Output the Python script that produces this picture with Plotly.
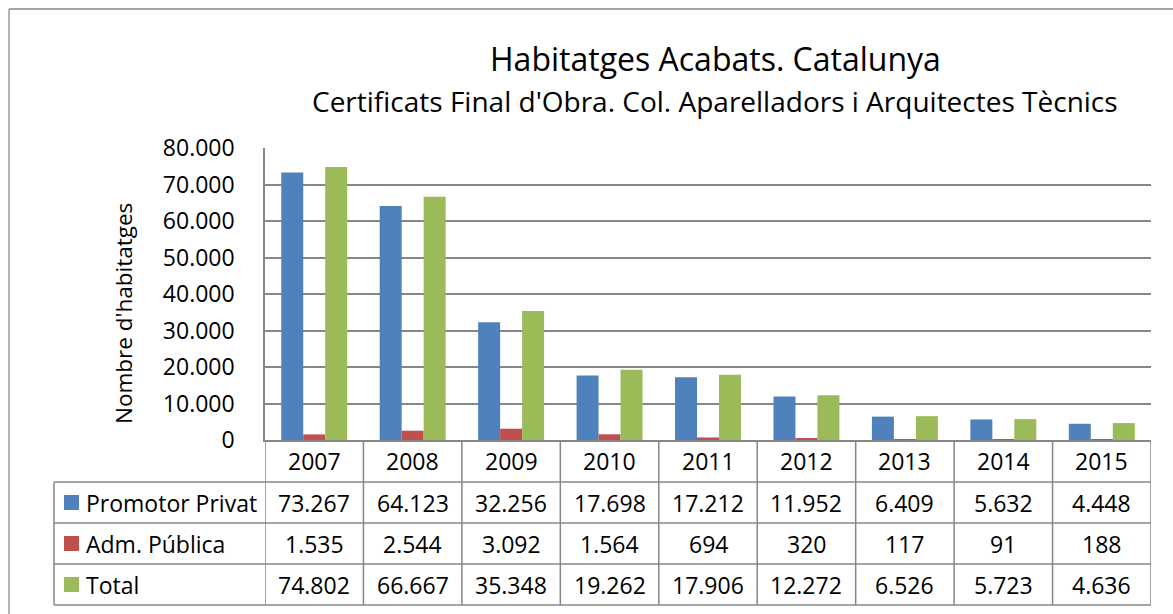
import plotly.graph_objects as go

years = ["2007", "2008", "2009", "2010", "2011", "2012", "2013", "2014", "2015"]
promotor_privat = [73267, 64123, 32256, 17698, 17212, 11952, 6409, 5632, 4448]
adm_publica = [1535, 2544, 3092, 1564, 694, 320, 117, 91, 188]
total = [74802, 66667, 35348, 19262, 17906, 12272, 6526, 5723, 4636]
series_names = ["Promotor Privat", "Adm. Pública", "Total"]
series_colors = ["#4F81BD", "#C0504D", "#9BBB59"]
series_values = [promotor_privat, adm_publica, total]

W, H = 1173, 614
FONT = "Open Sans"
GRID = "#878787"
L, R, T, Z = 265, 1151, 148, 440
ROWS = [440, 482, 523, 564, 605]
LEG_L = 54
FS = 23


def px(x):
    return x / W


def py(y):
    return 1 - y / H


def fmt(v):
    return f"{v:,}".replace(",", ".")


fig = go.Figure()
for name, vals, col in zip(series_names, series_values, series_colors):
    fig.add_trace(go.Bar(x=years, y=vals, name=name, marker_color=col,
                         marker_line_width=0, showlegend=False))

shapes = []
# outer chart border
shapes.append(dict(type="line", xref="paper", yref="paper", x0=px(9), x1=px(1200), y0=py(9), y1=py(9),
                   line=dict(color="#898989", width=1.3)))
shapes.append(dict(type="line", xref="paper", yref="paper", x0=px(9), x1=px(9), y0=py(9), y1=py(640),
                   line=dict(color="#898989", width=1.3)))
# table vertical lines on category boundaries
for i in range(len(years) + 1):
    shapes.append(dict(type="line", xref="x", yref="paper", x0=i - 0.5, x1=i - 0.5,
                       y0=py(Z), y1=py(ROWS[-1]), line=dict(color=GRID, width=1.5)))
shapes.append(dict(type="line", xref="paper", yref="paper", x0=px(LEG_L), x1=px(LEG_L),
                   y0=py(ROWS[1]), y1=py(ROWS[-1]), line=dict(color=GRID, width=1.5)))
# table horizontal lines
for r in ROWS[1:]:
    shapes.append(dict(type="line", xref="paper", yref="paper", x0=px(LEG_L), x1=px(R),
                       y0=py(r), y1=py(r), line=dict(color=GRID, width=1.5)))

annotations = []
# header years
hc = (ROWS[0] + ROWS[1]) / 2
for i, yr in enumerate(years):
    annotations.append(dict(x=i, y=py(hc), xref="x", yref="paper", text=yr, showarrow=False,
                            font=dict(family=FONT, size=FS, color="black"), xanchor="center", yanchor="middle"))
# rows
for k, (name, vals, col) in enumerate(zip(series_names, series_values, series_colors)):
    rc = (ROWS[k + 1] + ROWS[k + 2]) / 2
    shapes.append(dict(type="rect", xref="paper", yref="paper", x0=px(64), x1=px(79),
                       y0=py(rc + 7.5), y1=py(rc - 7.5), fillcolor=col, line=dict(width=0)))
    annotations.append(dict(x=px(84), y=py(rc), xref="paper", yref="paper", text=name, showarrow=False,
                            font=dict(family=FONT, size=FS, color="black"), xanchor="left", yanchor="middle"))
    for i, v in enumerate(vals):
        annotations.append(dict(x=i, y=py(rc), xref="x", yref="paper", text=fmt(v), showarrow=False,
                                font=dict(family=FONT, size=FS, color="black"), xanchor="center", yanchor="middle"))

# titles
annotations.append(dict(x=px(715), y=py(58), xref="paper", yref="paper", text="Habitatges Acabats. Catalunya",
                        showarrow=False, font=dict(family=FONT, size=32, color="black"),
                        xanchor="center", yanchor="middle"))
annotations.append(dict(x=px(715), y=py(101), xref="paper", yref="paper",
                        text="Certificats Final d'Obra. Col. Aparelladors i Arquitectes Tècnics",
                        showarrow=False, font=dict(family=FONT, size=28, color="black"),
                        xanchor="center", yanchor="middle"))
annotations.append(dict(x=px(123), y=py(314), xref="paper", yref="paper", text="Nombre d'habitatges",
                        showarrow=False, textangle=-90, font=dict(family=FONT, size=22.5, color="black"),
                        xanchor="center", yanchor="middle"))

fig.update_layout(
    width=W, height=H, margin=dict(l=0, r=0, t=0, b=0, autoexpand=False),
    paper_bgcolor="white", plot_bgcolor="white",
    barmode="group", bargap=0.33, bargroupgap=0,
    separators=",.",
    shapes=shapes, annotations=annotations,
    xaxis=dict(domain=[px(L), px(R)], range=[-0.5, len(years) - 0.5], showticklabels=False,
               showline=True, linecolor=GRID, linewidth=1.5, showgrid=False, ticks="", automargin=False),
    yaxis=dict(domain=[py(Z), py(T)], range=[0, 80000], dtick=10000, tickformat=",.0f",
               showgrid=True, gridcolor=GRID, gridwidth=1.5, zeroline=False,
               showline=True, linecolor=GRID, linewidth=1.5, ticks="outside", ticklen=24,
               tickcolor="rgba(0,0,0,0)", automargin=False,
               tickfont=dict(family=FONT, size=FS, color="black")),
    font=dict(family=FONT),
)

fig.write_html("out.html", config={"displayModeBar": False},
               post_script="document.body.style.margin='0';document.body.style.overflow='hidden';")
